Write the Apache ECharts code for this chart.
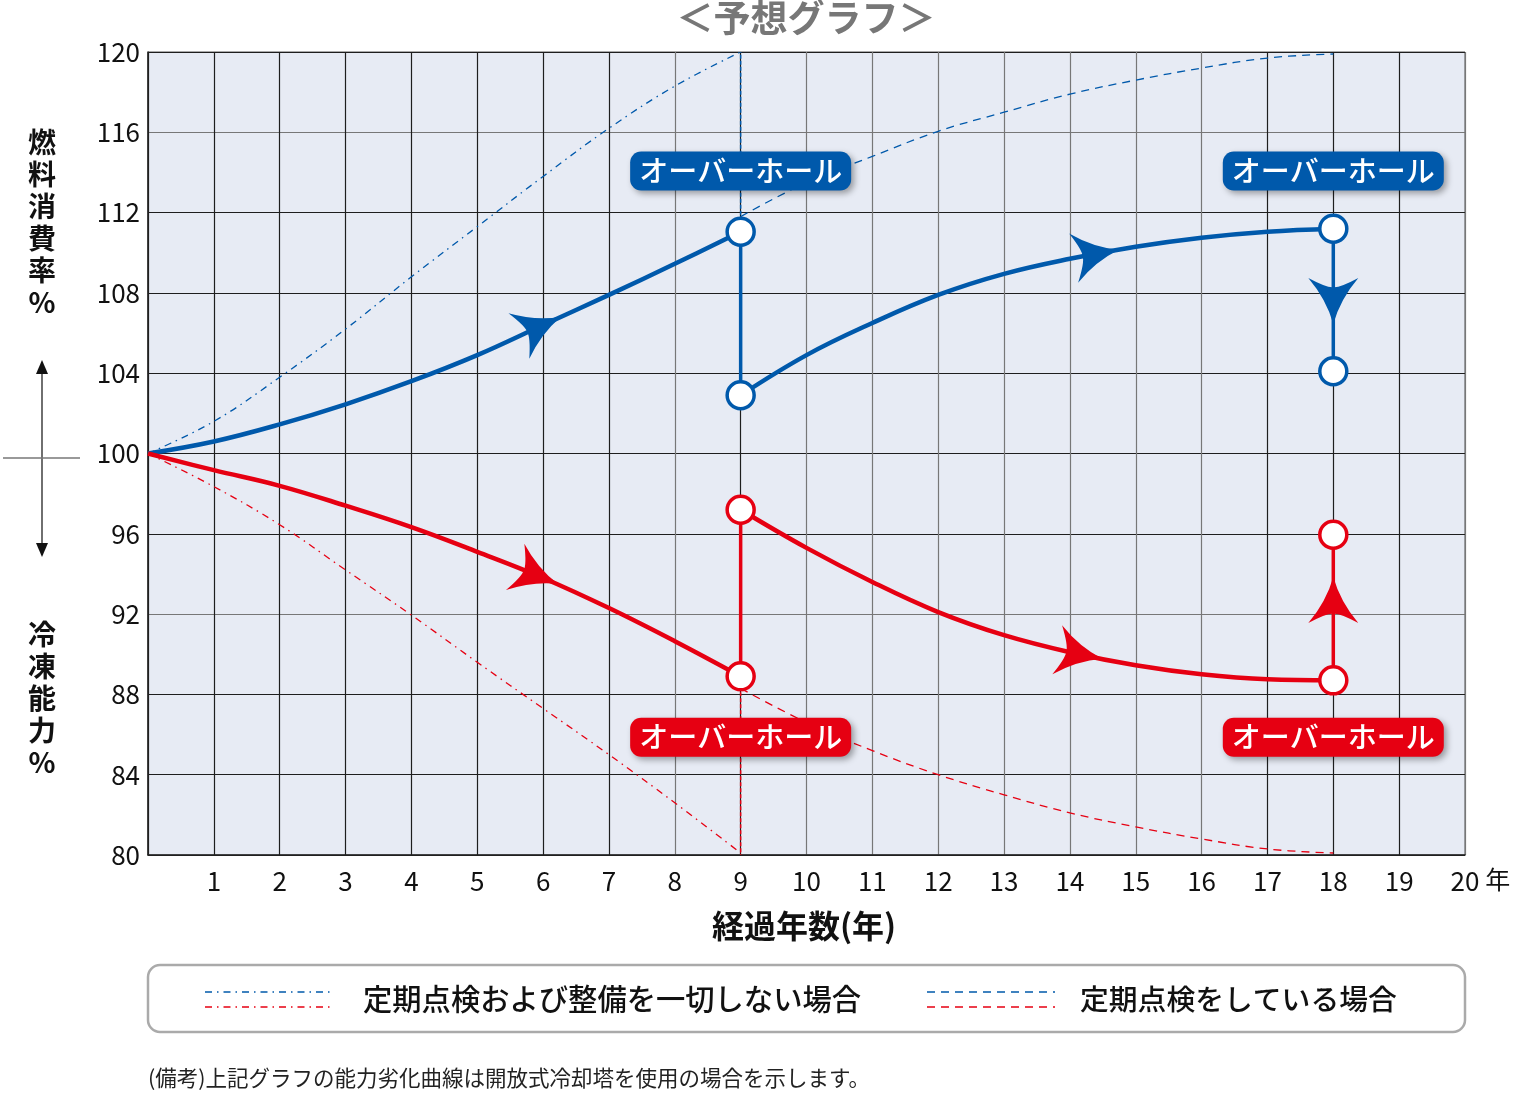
<!DOCTYPE html>
<html><head><meta charset="utf-8">
<script src="https://cdn.jsdelivr.net/npm/echarts@6/dist/echarts.min.js"></script>
<style>html,body{margin:0;padding:0;background:#fff}#c{width:1520px;height:1100px}</style>
</head><body><div id="c"></div>
<script>
// ---- data ----
const xTicks = [0,1,2,3,4,5,6,7,8,9,10,11,12,13,14,15,16,17,18,19,20];
const yTicks = [80,84,88,92,96,100,104,108,112,116,120];
// no maintenance (dash-dot)
const blueNoMaint = [[0,100],[1,101.6],[2,103.8],[3,106.2],[4,108.8],[5,111.3],[6,113.8],[7,116.2],[8,118.3],[9,120]];
const redNoMaint  = [[0,100],[1,98.35],[2,96.45],[3,94.2],[4,91.95],[5,89.6],[6,87.3],[7,85.0],[8,82.6],[9,80.1]];
// regular inspection (dashed)
const blueInspect = [[9,111.8],[10,113.5],[11,114.8],[12,116.05],[13,117.0],[14,117.9],[15,118.6],[16,119.2],[17,119.7],[18,119.9]];
const redInspect  = [[9,88.3],[10,86.6],[11,85.2],[12,84.0],[13,83.0],[14,82.1],[15,81.4],[16,80.8],[17,80.3],[18,80.1]];
const blueVert9Dash = [[9,111],[9,120]];
const redVert9Dash  = [[9,89],[9,80]];
// overhaul (solid)
const blueSeg1 = [[0,100],[1,100.6],[2,101.45],[3,102.45],[4,103.6],[5,104.9],[6,106.4],[7,107.9],[8,109.45],[9,111.05]];
const blueDrop9 = [[9,111.05],[9,102.9]];
const blueSeg2 = [[9,102.9],[10,104.9],[11,106.5],[12,107.9],[13,108.95],[14,109.7],[15,110.3],[16,110.75],[17,111.05],[18,111.2]];
const blueDrop18 = [[18,111.2],[18,104.1]];
const redSeg1 = [[0,100],[1,99.17],[2,98.39],[3,97.4],[4,96.33],[5,95.1],[6,93.8],[7,92.3],[8,90.65],[9,88.9]];
const redRise9 = [[9,88.9],[9,97.2]];
const redSeg2 = [[9,97.2],[10,95.3],[11,93.6],[12,92.1],[13,90.95],[14,90.1],[15,89.45],[16,89.0],[17,88.75],[18,88.7]];
const redRise18 = [[18,88.7],[18,95.95]];
const blueNodes = [[9,111.05],[9,102.9],[18,111.2],[18,104.1]];
const redNodes  = [[9,97.2],[9,88.9],[18,95.95],[18,88.7]];
const overhaulLabelsBlue = [[9,114.07],[18,114.07]];
const overhaulLabelsRed  = [[9,85.87],[18,85.87]];
const labelText = 'オーバーホール';

const BLUE = '#0059ab', RED = '#e60012';
const DK = '#1e1e1e', GR = '#777';
const xGridColors = [DK,DK,DK,DK,DK,DK,DK,DK,GR,DK,GR,GR,GR,GR,GR,GR,GR,DK,DK,DK,GR];
const yGridColors = [DK,DK,DK,GR,DK,DK,DK,DK,DK,GR,DK];
const FONT = '"Noto Sans CJK JP","Noto Sans",sans-serif';
const ARROW = 'path://M50,0 Q64,54 100,100 Q62,78 50,80 Q38,78 0,100 Q36,54 50,0 Z';

const chart = echarts.init(document.getElementById('c'), null, {renderer:'canvas'});

function interpX(arr, x){
  for (let i=0;i<arr.length-1;i++){
    const a=arr[i], b=arr[i+1];
    if (x>=a[0] && x<=b[0]){ const t=(x-a[0])/(b[0]-a[0]); return a[1]+t*(b[1]-a[1]); }
  }
  return arr[arr.length-1][1];
}
const arrowSpecs = [
  {curve: blueSeg1, x: 5.95, color: BLUE},
  {curve: blueSeg2, x: 14.4, color: BLUE},
  {curve: redSeg1, x: 5.9, color: RED},
  {curve: redSeg2, x: 14.15, color: RED},
  {curve: blueDrop18, y: 107.6, color: BLUE},
  {curve: redRise18, y: 92.7, color: RED}
];

function lineS(data, color, width, type, z, smooth){
  return {type:'line', data, symbol:'none', smooth: smooth===undefined?0.4:smooth,
    lineStyle:{color, width, type, opacity:1}, z: z||2, silent:true, animation:false};
}
function labelS(data, bg){
  return {type:'scatter', data, symbolSize:0, z:10, silent:true, animation:false,
    itemStyle:{opacity:1},
    label:{show:true, position:'inside', formatter: labelText, color:'#fff', fontSize:29, fontFamily:FONT,
      fontWeight:500, backgroundColor:bg, borderRadius:11, padding:[6,9,4,9], opacity:1,
      shadowColor:'rgba(0,0,0,0.35)', shadowBlur:6, shadowOffsetX:3, shadowOffsetY:3}};
}
function nodeS(data, color){
  return {type:'scatter', data, symbol:'circle', symbolSize:27, z:8, silent:true, animation:false,
    itemStyle:{color:'#fff', borderColor:color, borderWidth:3.5, opacity:1}};
}

const option = {
  animation:false,
  backgroundColor:'#fff',
  grid:{left:148, right:55, top:52, bottom:245, show:true, backgroundColor:'#e7ebf4', borderColor:'#555', borderWidth:1},
  xAxis:{type:'value', min:0, max:20, interval:1,
    axisLine:{show:true, lineStyle:{color:'#222', width:1.5}}, axisTick:{show:false},
    axisLabel:{color:'#111', fontSize:26, fontFamily:FONT, margin:13, formatter:v=> v===0?'':String(v)},
    splitLine:{show:true, showMinLine:true, showMaxLine:true, lineStyle:{color:xGridColors, width:1.2}},
    name:'年', nameLocation:'end', nameGap:20,
    nameTextStyle:{color:'#111', fontSize:25, fontFamily:FONT, verticalAlign:'top', padding:[12,0,0,0]}},
  yAxis:{type:'value', min:80, max:120, interval:4,
    axisLine:{show:true, lineStyle:{color:'#222', width:1.5}}, axisTick:{show:false},
    axisLabel:{color:'#111', fontSize:26, fontFamily:FONT, margin:8},
    splitLine:{show:true, showMinLine:true, showMaxLine:true, lineStyle:{color:yGridColors, width:1.2}}},
  series:[
    lineS(blueNoMaint, BLUE, 1.3, [7,5,1.5,5], 3),
    lineS(redNoMaint, RED, 1.3, [7,5,1.5,5], 3),
    lineS(blueInspect, BLUE, 1.3, [8,6], 3),
    lineS(redInspect, RED, 1.3, [8,6], 3),
    lineS(blueVert9Dash, BLUE, 1.5, [4,2], 3, false),
    lineS(redVert9Dash, RED, 1.5, [4,2], 3, false),
    lineS(blueSeg1, BLUE, 4.5, 'solid', 5),
    lineS(blueDrop9, BLUE, 3.5, 'solid', 5, false),
    lineS(blueSeg2, BLUE, 4.5, 'solid', 5),
    lineS(blueDrop18, BLUE, 3.5, 'solid', 5, false),
    lineS(redSeg1, RED, 4.5, 'solid', 5),
    lineS(redRise9, RED, 3.5, 'solid', 5, false),
    lineS(redSeg2, RED, 4.5, 'solid', 5),
    lineS(redRise18, RED, 3.5, 'solid', 5, false),
    nodeS(blueNodes, BLUE),
    nodeS(redNodes, RED),
    labelS(overhaulLabelsBlue, BLUE),
    labelS(overhaulLabelsRed, RED)
  ],
  graphic:[
    {type:'text', x:806, y:18, style:{text:'＜予想グラフ＞', fill:'#777', font:'bold 37px '+FONT, align:'center', verticalAlign:'middle', textAlign:'center', textVerticalAlign:'middle'}},
    {type:'text', x:804, y:926, style:{text:'経過年数(年)', fill:'#111', font:'bold 32px '+FONT, align:'center', verticalAlign:'middle', textAlign:'center', textVerticalAlign:'middle'}},
    {type:'text', x:42, y:222, style:{text:'燃\n料\n消\n費\n率\n%', fill:'#111', font:'bold 28px '+FONT, lineHeight:32, align:'center', verticalAlign:'middle', textAlign:'center', textVerticalAlign:'middle'}},
    {type:'text', x:42, y:698, style:{text:'冷\n凍\n能\n力\n%', fill:'#111', font:'bold 28px '+FONT, lineHeight:32, align:'center', verticalAlign:'middle', textAlign:'center', textVerticalAlign:'middle'}},
    {type:'line', shape:{x1:42, y1:368, x2:42, y2:550}, style:{stroke:'#222', lineWidth:1.3}},
    {type:'line', shape:{x1:3, y1:458, x2:80, y2:458}, style:{stroke:'#777', lineWidth:1.5}},
    {type:'polygon', shape:{points:[[42,360],[36,374],[48,374]]}, style:{fill:'#111'}},
    {type:'polygon', shape:{points:[[42,557],[36,543],[48,543]]}, style:{fill:'#111'}},
    {type:'rect', shape:{x:148, y:965, width:1317, height:67, r:12}, style:{fill:'#fff', stroke:'#aaa', lineWidth:2.5}},
    {type:'line', shape:{x1:205, y1:992, x2:333, y2:992}, style:{stroke:BLUE, lineWidth:1.5, lineDash:[7,5,1.5,5]}},
    {type:'line', shape:{x1:205, y1:1007, x2:333, y2:1007}, style:{stroke:RED, lineWidth:1.5, lineDash:[7,5,1.5,5]}},
    {type:'text', x:363, y:999, style:{text:'定期点検および整備を一切しない場合', fill:'#111', font:'500 29.3px '+FONT, align:'left', verticalAlign:'middle', textAlign:'left', textVerticalAlign:'middle'}},
    {type:'line', shape:{x1:927, y1:992, x2:1055, y2:992}, style:{stroke:BLUE, lineWidth:1.5, lineDash:[8,6]}},
    {type:'line', shape:{x1:927, y1:1007, x2:1055, y2:1007}, style:{stroke:RED, lineWidth:1.5, lineDash:[8,6]}},
    {type:'text', x:1080, y:999, style:{text:'定期点検をしている場合', fill:'#111', font:'500 28.8px '+FONT, align:'left', verticalAlign:'middle', textAlign:'left', textVerticalAlign:'middle'}},
    {type:'text', x:148, y:1078, style:{text:'(備考)上記グラフの能力劣化曲線は開放式冷却塔を使用の場合を示します。', fill:'#222', font:'21.5px '+FONT, align:'left', verticalAlign:'middle', textAlign:'left', textVerticalAlign:'middle'}}
  ]
};
chart.setOption(option);

// arrows along curves
const arrowData = arrowSpecs.map(s => {
  let p, a, b;
  if (s.x !== undefined){
    p = [s.x, interpX(s.curve, s.x)];
    a = chart.convertToPixel({gridIndex:0}, [s.x-0.1, interpX(s.curve, s.x-0.1)]);
    b = chart.convertToPixel({gridIndex:0}, [s.x+0.1, interpX(s.curve, s.x+0.1)]);
  } else {
    p = [s.curve[0][0], s.y];
    a = chart.convertToPixel({gridIndex:0}, s.curve[0]);
    b = chart.convertToPixel({gridIndex:0}, s.curve[s.curve.length-1]);
  }
  const ang = Math.atan2(-(b[1]-a[1]), b[0]-a[0]) * 180 / Math.PI - 90;
  return {value:p, symbolRotate: ang, itemStyle:{color:s.color, opacity:1}};
});
chart.setOption({series: option.series.concat([{
  type:'scatter', data: arrowData, symbol:ARROW, symbolSize:[50,46], symbolKeepAspect:false, z:7, silent:true, animation:false,
  itemStyle:{opacity:1}
}])});
</script></body></html>
